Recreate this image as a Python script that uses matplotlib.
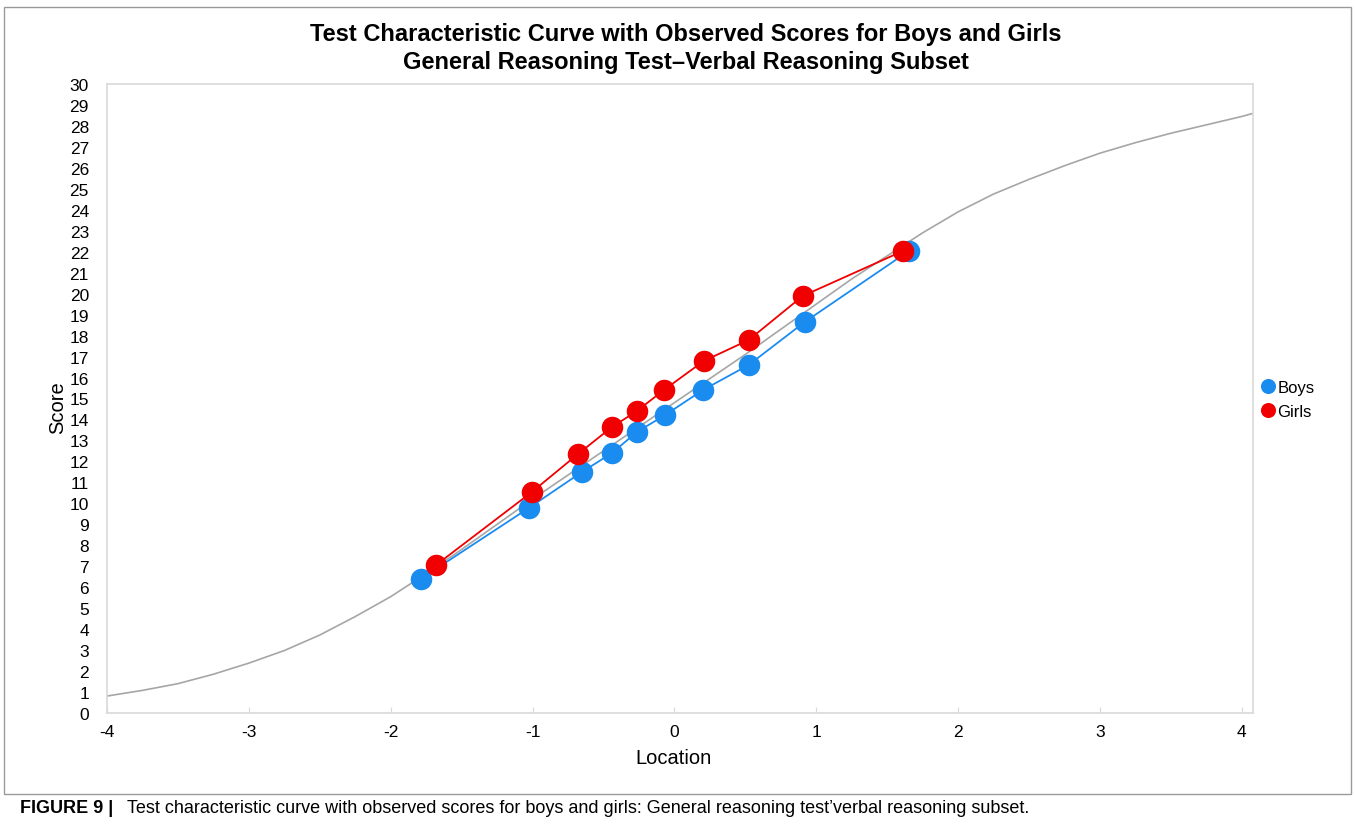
import matplotlib
matplotlib.use("Agg")
import matplotlib.pyplot as plt
from matplotlib.patches import Rectangle

plt.rcParams['font.family'] = ['Liberation Sans', 'DejaVu Sans']
plt.rcParams['axes.unicode_minus'] = False

# test characteristic curve
curve_x = [-4.0, -3.75, -3.5, -3.25, -3.0, -2.75, -2.5, -2.25, -2.0, -1.75, -1.5, -1.25, -1.0,
           -0.75, -0.5, -0.25, 0.0, 0.25, 0.5, 0.75, 1.0, 1.25, 1.5, 1.75, 2.0, 2.25, 2.5,
           2.75, 3.0, 3.25, 3.5, 3.75, 4.0, 4.08]
curve_y = [0.81, 1.08, 1.40, 1.85, 2.38, 2.98, 3.72, 4.6, 5.55, 6.65, 7.8, 9.0, 10.2,
           11.35, 12.5, 13.65, 14.8, 15.95, 17.1, 18.3, 19.5, 20.7, 21.8, 22.9, 23.9, 24.75, 25.45,
           26.1, 26.7, 27.2, 27.65, 28.05, 28.45, 28.6]

# observed scores
boys_x = [-1.79, -1.026, -0.653, -0.44, -0.265, -0.068, 0.2, 0.524, 0.919, 1.652]
boys_y = [6.39, 9.78, 11.49, 12.4, 13.4, 14.2, 15.4, 16.6, 18.65, 22.03]
girls_x = [-1.68, -1.005, -0.68, -0.44, -0.265, -0.075, 0.207, 0.524, 0.905, 1.61]
girls_y = [7.06, 10.54, 12.35, 13.64, 14.4, 15.4, 16.79, 17.79, 19.89, 22.03]

fig = plt.figure(figsize=(13.55, 8.29), dpi=100)
ax = fig.add_axes([0.079, 0.1387, 0.8458, 0.7588])

ax.plot(curve_x, curve_y, color='#a6a6a6', lw=1.2, zorder=2)
ax.plot(boys_x, boys_y, color='#1a8cf0', lw=1.3, marker='o', ms=15.5,
        markeredgewidth=0, label='Boys', zorder=3)
ax.plot(girls_x, girls_y, color='#f00000', lw=1.3, marker='o', ms=15.5,
        markeredgewidth=0, label='Girls', zorder=4)

ax.set_xlim(-4, 4.08)
ax.set_ylim(0, 30)
ax.set_xticks(range(-4, 5))
ax.set_yticks(range(0, 31))
ax.tick_params(axis='x', direction='in', length=4, color='#d9d9d9', labelsize=12.5, pad=8)
ax.tick_params(axis='y', length=0, labelsize=12.5, pad=13)
for s in ax.spines.values():
    s.set_color('#d9d9d9')
    s.set_linewidth(1.2)

ax.set_xlabel('Location', fontsize=14.5)
ax.set_ylabel('Score', fontsize=14.5)
ax.xaxis.set_label_coords(0.494, -0.055)
ax.yaxis.set_label_coords(-0.035, 0.487)

fig.text(0.506, 0.958, 'Test Characteristic Curve with Observed Scores for Boys and Girls',
         ha='center', va='center', fontsize=17, fontweight='bold')
fig.text(0.506, 0.925, 'General Reasoning Test\u2013Verbal Reasoning Subset',
         ha='center', va='center', fontsize=17, fontweight='bold')

# legend drawn at right
handles, labels = ax.get_legend_handles_labels()
leg = fig.legend(handles, labels, loc='center left', bbox_to_anchor=(0.925, 0.517),
                 frameon=False, fontsize=12, handlelength=0, handletextpad=0.55,
                 markerscale=0.7, labelspacing=0.55)
for h in leg.legend_handles:
    h.set_linestyle('')

# outer frame and caption
fig.patches.append(Rectangle((0.003, 0.041), 0.994, 0.949, transform=fig.transFigure,
                             fill=False, edgecolor='#9a9a9a', lw=1.0))
fig.text(0.015, 0.025, 'FIGURE 9 |', fontsize=13, fontweight='bold', va='center', ha='left')
fig.text(0.094, 0.025, 'Test characteristic curve with observed scores for boys and girls: '
         'General reasoning test\u2019verbal reasoning subset.', fontsize=13, va='center', ha='left')

fig.savefig('out.png', dpi=100)
